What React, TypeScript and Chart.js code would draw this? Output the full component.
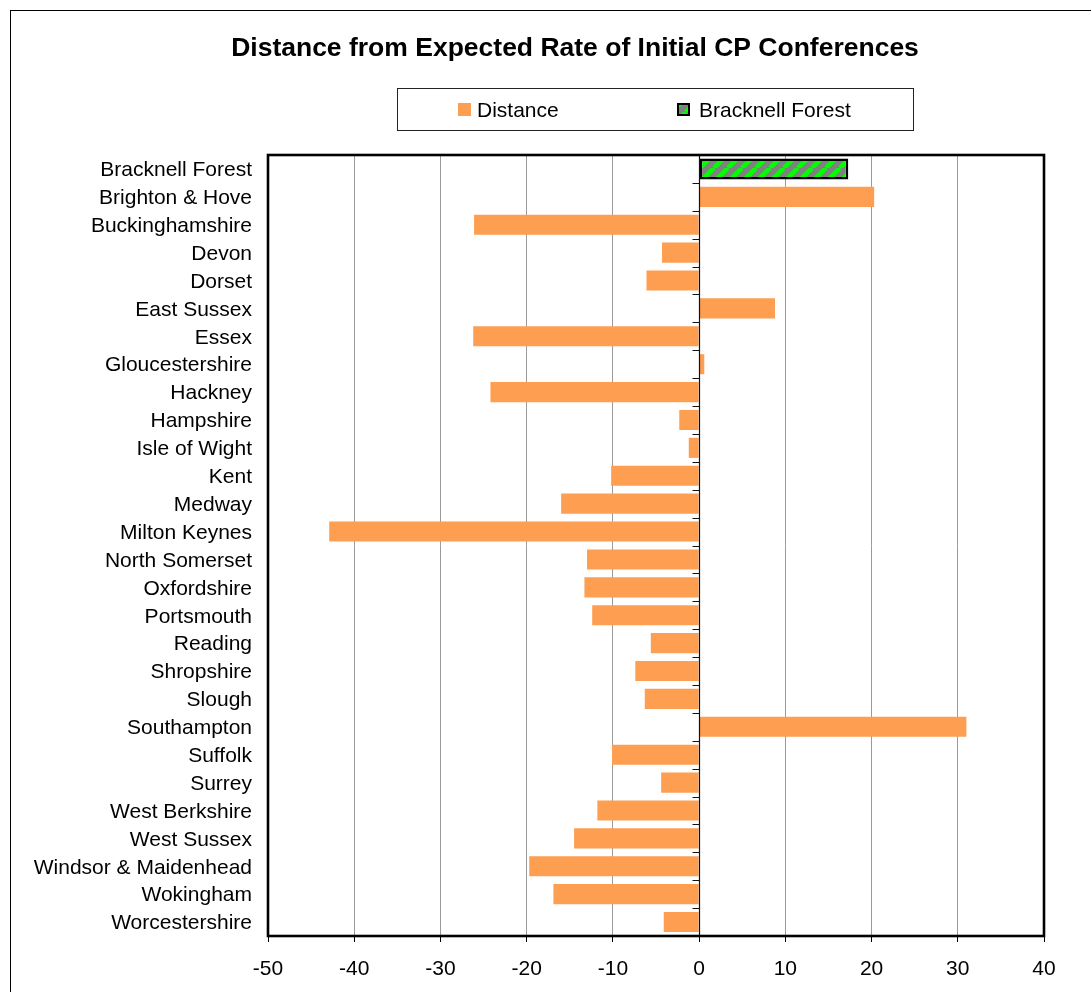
import React, { useEffect, useRef } from "react";
import { Chart, registerables } from "chart.js";

Chart.register(...registerables);

const chartTitle = "Distance from Expected Rate of Initial CP Conferences";

const categories: string[] = [
  "Bracknell Forest",
  "Brighton & Hove",
  "Buckinghamshire",
  "Devon",
  "Dorset",
  "East Sussex",
  "Essex",
  "Gloucestershire",
  "Hackney",
  "Hampshire",
  "Isle of Wight",
  "Kent",
  "Medway",
  "Milton Keynes",
  "North Somerset",
  "Oxfordshire",
  "Portsmouth",
  "Reading",
  "Shropshire",
  "Slough",
  "Southampton",
  "Suffolk",
  "Surrey",
  "West Berkshire",
  "West Sussex",
  "Windsor & Maidenhead",
  "Wokingham",
  "Worcestershire",
];

const distanceValues: (number | null)[] = [
  null, 20.3, -26.1, -4.3, -6.1, 8.8, -26.2, 0.6, -24.2, -2.3, -1.2, -10.2,
  -16.0, -42.9, -13.0, -13.3, -12.4, -5.6, -7.4, -6.3, 31.0, -10.1, -4.4,
  -11.8, -14.5, -19.7, -16.9, -4.1,
];

const bracknellValue = 17.3;

const xMin = -50;
const xMax = 40;
const xStep = 10;

const seriesNames = ["Distance", "Bracknell Forest"];

const FONT = "'Liberation Sans', Arial, sans-serif";
const ORANGE = "#FD9E51";

function makePattern(): CanvasPattern | string {
  const s = 14;
  const c = document.createElement("canvas");
  c.width = s;
  c.height = s;
  const g = c.getContext("2d");
  if (!g) return "#808080";
  g.fillStyle = "#808080";
  g.fillRect(0, 0, s, s);
  g.strokeStyle = "#00FF00";
  g.lineWidth = 4.5;
  for (const k of [-1, 0, 1]) {
    g.beginPath();
    g.moveTo(k * s, s);
    g.lineTo(k * s + s, 0);
    g.stroke();
  }
  const p = g.createPattern(c, "repeat");
  return p || "#808080";
}

export default function App() {
  const ref = useRef<HTMLCanvasElement | null>(null);

  useEffect(() => {
    const canvas = ref.current;
    if (!canvas) return;
    const pattern = makePattern();
    const bracknellValues = categories.map((_, i) => (i === 0 ? bracknellValue : null));

    const framePlugin = {
      id: "frame",
      beforeDraw(chart: any) {
        const ctx = chart.ctx;
        ctx.save();
        ctx.strokeStyle = "#000";
        ctx.lineWidth = 1;
        ctx.strokeRect(10.5, 10.5, 3000, 3000);
        ctx.restore();
      },
      afterDatasetsDraw(chart: any) {
        const ctx = chart.ctx;
        const a = chart.chartArea;
        const xs = chart.scales.x;
        const x0 = Math.floor(xs.getPixelForValue(0)) + 0.5;
        const n = categories.length;
        ctx.save();
        // zero (category) axis
        ctx.strokeStyle = "#111";
        ctx.lineWidth = 1.2;
        ctx.beginPath();
        ctx.moveTo(x0, a.top);
        ctx.lineTo(x0, a.bottom);
        for (let i = 0; i <= n; i++) {
          const y = Math.round(a.top + (i * (a.bottom - a.top)) / n) + 0.5;
          ctx.moveTo(x0 - 7, y);
          ctx.lineTo(x0, y);
        }
        ctx.stroke();
        // plot area border
        ctx.lineWidth = 2.6;
        ctx.strokeStyle = "#000";
        ctx.strokeRect(a.left, a.top, a.right - a.left, a.bottom - a.top);
        ctx.restore();
      },
      afterDraw(chart: any) {
        const ctx = chart.ctx;
        ctx.save();
        // title
        ctx.fillStyle = "#000";
        ctx.textAlign = "center";
        ctx.textBaseline = "middle";
        ctx.font = `bold 26.5px ${FONT}`;
        ctx.fillText(chartTitle, 575, 49);
        // legend box
        ctx.textAlign = "left";
        ctx.strokeStyle = "#222";
        ctx.lineWidth = 1;
        ctx.strokeRect(397.5, 88.5, 516, 42);
        ctx.font = `21px ${FONT}`;
        // item 1
        ctx.fillStyle = ORANGE;
        ctx.fillRect(458, 103, 13, 13);
        ctx.fillStyle = "#000";
        ctx.fillText(seriesNames[0], 477, 111);
        // item 2
        ctx.fillStyle = pattern as any;
        ctx.fillRect(677, 103, 13, 13);
        ctx.strokeStyle = "#000";
        ctx.lineWidth = 2;
        ctx.strokeRect(678, 104, 11, 11);
        ctx.fillStyle = "#000";
        ctx.fillText(seriesNames[1], 699, 111);
        ctx.restore();
      },
    };

    const chart = new Chart(canvas, {
      type: "bar",
      data: {
        labels: categories,
        datasets: [
          {
            label: seriesNames[0],
            data: distanceValues as any,
            backgroundColor: ORANGE,
            borderWidth: 0,
            barPercentage: 0.72,
            categoryPercentage: 1,
          },
          {
            label: seriesNames[1],
            data: bracknellValues as any,
            backgroundColor: pattern as any,
            borderColor: "#000",
            borderWidth: 2.5,
            borderSkipped: false,
            barPercentage: 0.75,
            categoryPercentage: 1,
          },
        ],
      },
      options: {
        indexAxis: "y",
        animation: false,
        responsive: false,
        maintainAspectRatio: false,
        devicePixelRatio: 1,
        layout: { padding: { left: 0, right: 106, top: 155, bottom: 0 } },
        plugins: {
          legend: { display: false },
          tooltip: { enabled: false },
          title: { display: false },
        },
        scales: {
          x: {
            type: "linear",
            stacked: true,
            min: xMin,
            max: xMax,
            afterFit: (s: any) => {
              s.height = 56;
            },
            ticks: {
              stepSize: xStep,
              color: "#000",
              padding: 15,
              font: { family: FONT, size: 21 },
            },
            grid: {
              color: "#9a9a9a",
              lineWidth: 1,
              tickColor: "#000",
              tickLength: 6,
              drawTicks: true,
            },
            border: { display: false },
          },
          y: {
            stacked: true,
            afterFit: (s: any) => {
              s.width = 268;
            },
            ticks: {
              color: "#000",
              padding: 16,
              labelOffset: 1.5,
              autoSkip: false,
              font: { family: FONT, size: 21 },
            },
            grid: { display: false, drawTicks: false },
            border: { display: false },
          },
        },
      },
      plugins: [framePlugin],
    } as any);

    return () => chart.destroy();
  }, []);

  return (
    <div
      style={{
        position: "fixed",
        left: 0,
        top: 0,
        width: 1091,
        height: 992,
        overflow: "hidden",
        background: "#fff",
      }}
    >
      <canvas ref={ref} width={1150} height={992} style={{ display: "block" }} />
    </div>
  );
}
